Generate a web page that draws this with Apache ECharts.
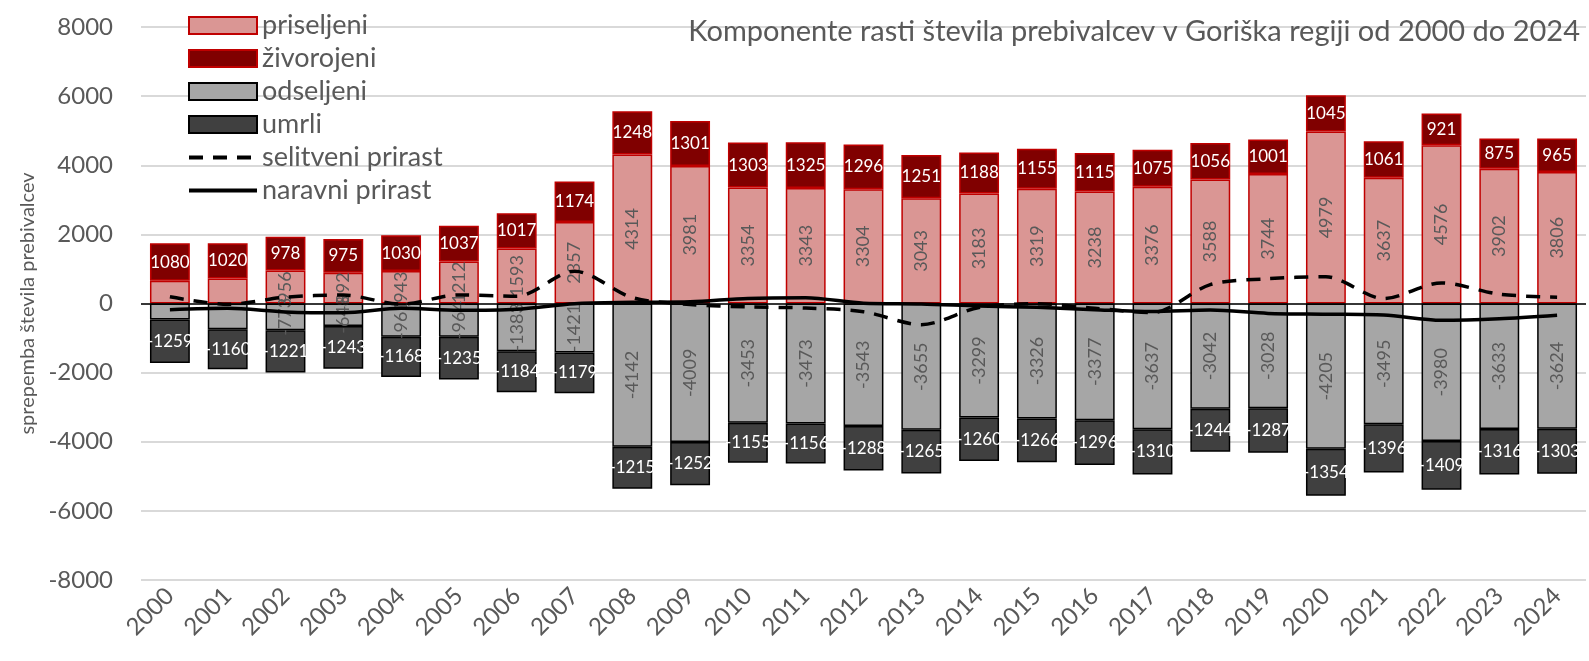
<!DOCTYPE html>
<html>
<head>
<meta charset="utf-8">
<script src="https://cdn.jsdelivr.net/npm/echarts@6/dist/echarts.min.js"></script>
<style>
  html, body { margin: 0; padding: 0; background: #fff; }
  #chart { width: 1589px; height: 661px; }
</style>
</head>
<body>
<div id="chart"></div>
<script>
const years = ["2000", "2001", "2002", "2003", "2004", "2005", "2006", "2007", "2008", "2009", "2010", "2011", "2012",
  "2013", "2014", "2015", "2016", "2017", "2018", "2019", "2020", "2021", "2022", "2023", "2024"]

const priseljeni = [660, 720, 956, 892, 943, 1212, 1593, 2357, 4314, 3981, 3354, 3343, 3304,
  3043, 3183, 3319, 3238, 3376, 3588, 3744, 4979, 3637, 4576, 3902, 3806]
const zivorojeni = [1080, 1020, 978, 975, 1030, 1037, 1017, 1174, 1248, 1301, 1303, 1325, 1296,
  1251, 1188, 1155, 1115, 1075, 1056, 1001, 1045, 1061, 921, 875, 965]
const odseljeni = [-466, -742, -773, -648, -961, -964, -1383, -1421, -4142, -4009, -3453, -3473, -3543,
  -3655, -3299, -3326, -3377, -3637, -3042, -3028, -4205, -3495, -3980, -3633, -3624]
const umrli = [-1259, -1160, -1221, -1243, -1168, -1235, -1184, -1179, -1215, -1252, -1155, -1156, -1288,
  -1265, -1260, -1266, -1296, -1310, -1244, -1287, -1354, -1396, -1409, -1316, -1303]
const selitveniPrirast = [194, -22, 183, 244, -18, 248, 210, 936, 172, -28, -99, -130, -239,
  -612, -116, -7, -139, -261, 546, 716, 774, 142, 596, 269, 182]
const naravniPrirast = [-179, -140, -243, -268, -138, -198, -167, -5, 33, 49, 148, 169, 8,
  -14, -72, -111, -181, -235, -188, -286, -309, -335, -488, -441, -338]

// years where the small migration bars carry no label
const unlabelled = ["2000", "2001"]

const font = "Lato, 'Liberation Sans', sans-serif"
const grey = "#595959"

const chart = echarts.init(document.getElementById("chart"))

const migLabel = {
  show: true,
  position: "inside",
  rotate: 90,
  color: grey,
  fontSize: 18,
  fontFamily: font,
  formatter: (p) => (unlabelled.includes(p.name) ? "" : String(p.value)),
}

const natLabel = {
  show: true,
  position: "inside",
  color: "#fff",
  fontSize: 17,
  fontFamily: font,
}

const option = {
  animation: false,
  textStyle: { fontFamily: font },
  title: {
    text: "Komponente rasti števila prebivalcev v Goriška regiji od 2000 do 2024",
    right: 4,
    top: 12,
    textStyle: { fontSize: 29, fontWeight: "normal", color: grey, fontFamily: font },
  },
  legend: {
    orient: "vertical",
    left: 182,
    top: 7,
    itemWidth: 68,
    itemHeight: 17,
    itemGap: 6,
    textStyle: { fontSize: 27, color: grey, fontFamily: font, lineHeight: 22 },
    data: [
      { name: "priseljeni", icon: "rect" },
      { name: "živorojeni", icon: "rect" },
      { name: "odseljeni", icon: "rect" },
      { name: "umrli", icon: "rect" },
      { name: "selitveni prirast", itemStyle: { opacity: 0 }, lineStyle: { width: 4, type: [14, 10] } },
      { name: "naravni prirast", itemStyle: { opacity: 0 }, lineStyle: { width: 4 } },
    ],
  },
  grid: { left: 141, right: 3, top: 27, bottom: 81 },
  xAxis: {
    type: "category",
    data: years,
    axisLine: { show: false, onZero: false },
    axisTick: { show: false },
    axisLabel: { rotate: 45, fontSize: 24, color: grey, fontFamily: font, margin: 12, interval: 0 },
  },
  yAxis: {
    type: "value",
    min: -8000,
    max: 8000,
    interval: 2000,
    name: "sprepemba števila prebivalcev",
    nameLocation: "middle",
    nameGap: 95,
    nameTextStyle: { fontSize: 20, color: grey, fontFamily: font },
    axisLine: { show: false },
    axisTick: { show: false },
    axisLabel: { fontSize: 24, color: grey, fontFamily: font, margin: 28, formatter: (v) => String(v) },
    splitLine: { lineStyle: { color: "#d9d9d9", width: 2 } },
  },
  series: [
    {
      name: "priseljeni",
      type: "bar",
      stack: "s",
      data: priseljeni,
      barCategoryGap: "31%",
      itemStyle: { color: "#da9694", borderColor: "#c00000", borderWidth: 1.5 },
      label: migLabel,
    },
    {
      name: "živorojeni",
      type: "bar",
      stack: "s",
      data: zivorojeni,
      itemStyle: { color: "#800000", borderColor: "#c00000", borderWidth: 1.5 },
      label: natLabel,
    },
    {
      name: "odseljeni",
      type: "bar",
      stack: "s",
      data: odseljeni,
      itemStyle: { color: "#a6a6a6", borderColor: "#000", borderWidth: 1.5 },
      label: migLabel,
    },
    {
      name: "umrli",
      type: "bar",
      stack: "s",
      data: umrli,
      itemStyle: { color: "#404040", borderColor: "#000", borderWidth: 1.5 },
      label: natLabel,
      markLine: {
        silent: true,
        symbol: "none",
        label: { show: false },
        lineStyle: { color: "#000", width: 1.5, type: "solid" },
        data: [{ yAxis: 0 }],
        z: 5,
      },
    },
    {
      name: "selitveni prirast",
      type: "line",
      data: selitveniPrirast,
      smooth: 0.3,
      symbol: "none",
      z: 10,
      lineStyle: { color: "#000", width: 3.5, type: [14, 10] },
      itemStyle: { color: "#000" },
    },
    {
      name: "naravni prirast",
      type: "line",
      data: naravniPrirast,
      smooth: 0.3,
      symbol: "none",
      z: 10,
      lineStyle: { color: "#000", width: 3.5 },
      itemStyle: { color: "#000" },
    },
  ],
}

chart.setOption(option)
</script>
</body>
</html>
